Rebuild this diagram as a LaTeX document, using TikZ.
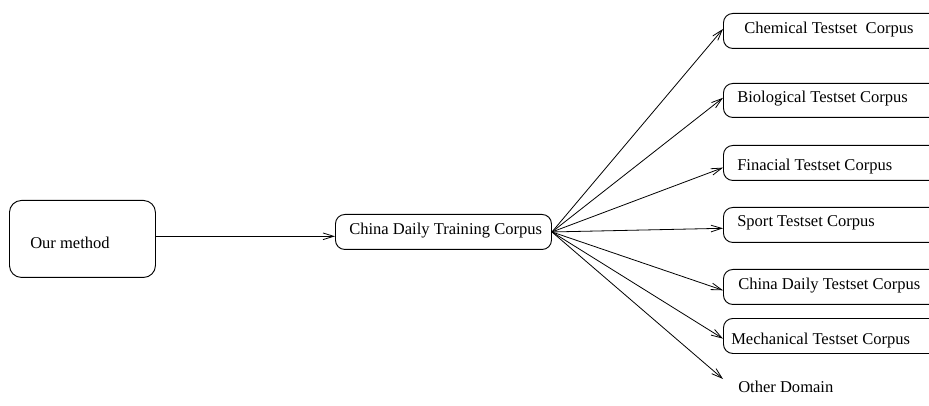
\documentclass[tikz,border=0pt]{standalone}
\usepackage{fontspec}
\setmainfont{Liberation Serif}
\usetikzlibrary{arrows.meta}
\begin{document}
\begin{tikzpicture}[x=0.75pt,y=-0.75pt,
  box/.style={draw=black, line width=0.7pt, rounded corners=7pt, inner sep=0pt},
  txt/.style={inner sep=0pt, font=\fontsize{12.4}{14}\selectfont},
  arr/.style={draw=black, line width=0.6pt, -{Straight Barb[length=8pt,width=5pt]}}]
\useasboundingbox (0,0) rectangle (929,406);
\clip (0,0) rectangle (929,406);
% left box
\node[box, rounded corners=9pt, minimum width=146*0.75pt, minimum height=77*0.75pt, anchor=north west] (ours) at (9,200) {};
\node[txt, anchor=west] (ourst) at (30,243) {Our method};
% middle box
\node[box, minimum width=216*0.75pt, minimum height=35*0.75pt, anchor=north west] (mid) at (335,214) {};
\node[txt, anchor=west] (midt) at (349,231) {China Daily Training Corpus};
% right boxes
\node[box, minimum width=230*0.75pt, minimum height=35*0.75pt, anchor=north west] (chem) at (723,13) {};
\node[txt, anchor=west] (chemt) at (744,30) {Chemical Testset\ \ Corpus};
\node[box, minimum width=230*0.75pt, minimum height=34*0.75pt, anchor=north west] (bio) at (723,83) {};
\node[txt, anchor=west] (biot) at (737,99) {Biological Testset Corpus};
\node[box, minimum width=230*0.75pt, minimum height=35*0.75pt, anchor=north west] (fin) at (723,145) {};
\node[txt, anchor=west] (fint) at (737,167) {Finacial Testset Corpus};
\node[box, minimum width=230*0.75pt, minimum height=35*0.75pt, anchor=north west] (sport) at (723,207) {};
\node[txt, anchor=west] (sportt) at (737,223) {Sport Testset Corpus};
\node[box, minimum width=230*0.75pt, minimum height=35*0.75pt, anchor=north west] (cdt) at (723,269) {};
\node[txt, anchor=west] (cdtt) at (738,286) {China Daily Testset Corpus};
\node[box, minimum width=230*0.75pt, minimum height=35*0.75pt, anchor=north west] (mech) at (723,318) {};
\node[txt, anchor=west] (mecht) at (731,341) {Mechanical Testset Corpus};
\node[txt, anchor=west] (other) at (738,387) {Other Domain};
\coordinate (otherend) at (723,379);
% connectors
\draw[arr] ([yshift=2pt]ours.east) -- ([yshift=2pt]ours.east -| mid.west);
\draw[arr] (mid.east) -- ([yshift=1.5pt]chem.west);
\draw[arr] (mid.east) -- ([yshift=2pt]bio.west);
\draw[arr] (mid.east) -- ([yshift=-3.5pt]fin.west);
\draw[arr] (mid.east) -- ([yshift=-2.5pt]sport.west);
\draw[arr] (mid.east) -- ([yshift=-2.5pt]cdt.west);
\draw[arr] (mid.east) -- ([yshift=-2pt]mech.west);
\draw[arr] (mid.east) -- (otherend);
\end{tikzpicture}
\end{document}
